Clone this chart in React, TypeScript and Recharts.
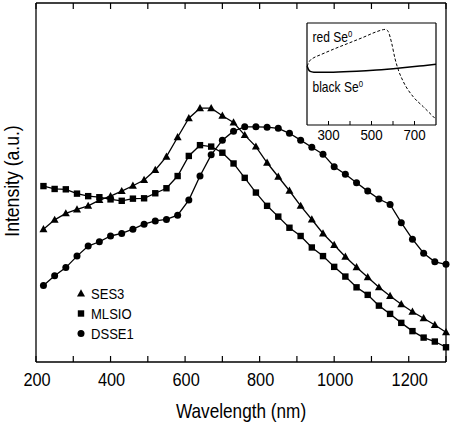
import React from 'react';
import { LineChart, Line, XAxis, YAxis, Legend } from 'recharts';

// Main chart: emission spectra
const WAVELENGTHS = [
  220, 250, 280, 310, 340, 370, 400, 430, 460, 490, 520, 550, 580, 610, 640, 670, 700, 730, 760,
  790, 820, 850, 880, 910, 940, 970, 1000, 1030, 1060, 1090, 1120, 1150, 1180, 1210, 1240, 1270, 1300
];
const SES3 = [
  37.0, 39.6, 41.4, 42.5, 43.5, 45.1, 46.2, 47.6, 49.1, 50.7, 53.5, 57.2, 62.6, 67.9, 70.7, 70.7, 68.6, 66.7, 63.2,
  60.0, 55.5, 51.6, 47.7, 43.5, 39.7, 35.8, 32.6, 29.3, 26.4, 23.6, 20.8, 18.4, 16.1, 14.0, 12.2, 10.3, 8.3
];
const MLSIO = [
  49.0, 48.2, 48.1, 46.9, 46.2, 45.9, 45.3, 44.9, 45.5, 45.6, 47.0, 48.4, 51.8, 57.4, 60.4, 60.0, 58.3, 55.3, 51.3,
  47.2, 43.5, 40.5, 37.4, 35.1, 31.9, 29.5, 26.5, 23.8, 20.8, 18.7, 15.7, 13.4, 10.9, 8.6, 6.8, 5.7, 4.1
];
const DSSE1 = [
  21.3, 24.0, 26.3, 29.5, 32.3, 33.5, 35.1, 35.8, 37.0, 38.4, 39.3, 39.7, 40.9, 45.1, 51.8, 57.7, 61.8, 64.3, 65.5,
  65.5, 65.4, 65.1, 63.7, 61.8, 59.8, 57.9, 54.4, 52.3, 49.9, 47.6, 45.4, 43.9, 38.8, 34.2, 30.3, 27.9, 27.2
];
const X_TICKS = [200, 300, 400, 500, 600, 700, 800, 900, 1000, 1100, 1200, 1300];
const X_LABELS = [200, 400, 600, 800, 1000, 1200];

// Inset: red vs black Se0
const RED_NM = [201, 206, 215, 232, 260, 322, 392, 462, 524, 555, 566, 578, 594, 609, 625, 648, 694, 741, 800];
const RED_V = [57.5, 60.5, 63.5, 66, 68.6, 74.2, 80.1, 86.0, 91.5, 93.5, 93.8, 91.5, 80.1, 65.4, 53.9, 42.5, 27.7, 17.9, 5.5];
const BLACK_NM = [201, 206, 215, 232, 260, 322, 431, 524, 633, 741, 800];
const BLACK_V = [57.5, 54.8, 52.6, 51.8, 51.6, 51.7, 52.6, 53.9, 55.9, 58.2, 59.5];
const INSET_TICKS = [300, 400, 500, 600, 700];
const INSET_LABELS = [300, 500, 700];

const FONT = "'Liberation Sans', Arial, Helvetica, sans-serif";

const SERIES = [
  { key: 'ses3', name: 'SES3', shape: 'triangle', values: SES3 },
  { key: 'mlsio', name: 'MLSIO', shape: 'square', values: MLSIO },
  { key: 'dsse1', name: 'DSSE1', shape: 'circle', values: DSSE1 }
];

const data = WAVELENGTHS.map((x, i) => ({ x, ses3: SES3[i], mlsio: MLSIO[i], dsse1: DSSE1[i] }));
const redData = RED_NM.map((x, i) => ({ x, v: RED_V[i] }));
const blackData = BLACK_NM.map((x, i) => ({ x, v: BLACK_V[i] }));

const PLOT_TOP = 3;
const PLOT_BOTTOM = 362;

// the original uses a condensed Helvetica, squeeze Arial horizontally to get close
const NarrowText = ({ x, y, size, anchor = 'start', squeeze = 0.86, rotate = 0, children }: any) => (
  <text
    transform={`translate(${x},${y}) rotate(${rotate}) scale(${squeeze},1)`}
    textAnchor={anchor}
    fontSize={size}
    fontFamily={FONT}
    fill="#000"
  >
    {children}
  </text>
);

const marker = (shape: string, cx: number, cy: number, key?: string) => {
  if (shape === 'triangle') {
    return <polygon key={key} points={`${cx},${cy - 4.2} ${cx + 4},${cy + 3} ${cx - 4},${cy + 3}`} fill="#000" />;
  }
  if (shape === 'square') {
    return <rect key={key} x={cx - 3.2} y={cy - 3.2} width={6.4} height={6.4} fill="#000" />;
  }
  return <circle key={key} cx={cx} cy={cy} r={3.5} fill="#000" />;
};

const BottomTick = (props: any) => {
  const { x, payload } = props;
  const v = payload.value;
  return (
    <g>
      <line x1={x} x2={x} y1={PLOT_BOTTOM} y2={PLOT_BOTTOM - 6} stroke="#000" strokeWidth={1.2} />
      {X_LABELS.includes(v) && (
        <NarrowText x={x + 1} y={386} size={19} anchor="middle">
          {v}
        </NarrowText>
      )}
    </g>
  );
};

const TopTick = (props: any) => (
  <line x1={props.x} x2={props.x} y1={PLOT_TOP} y2={PLOT_TOP + 6} stroke="#000" strokeWidth={1.2} />
);

const InsetBottomTick = (props: any) => {
  const { x, payload } = props;
  const v = payload.value;
  return (
    <g>
      <line x1={x} x2={x} y1={107} y2={103} stroke="#000" strokeWidth={1} />
      {INSET_LABELS.includes(v) && (
        <NarrowText x={x} y={122} size={14.5} anchor="middle" squeeze={0.92}>
          {v}
        </NarrowText>
      )}
    </g>
  );
};

const InsetTopTick = (props: any) => (
  <line x1={props.x} x2={props.x} y1={5} y2={9} stroke="#000" strokeWidth={1} />
);

const renderXLabel = () => (
  <NarrowText x={241} y={418} size={20} anchor="middle">
    Wavelength (nm)
  </NarrowText>
);

const renderYLabel = () => (
  <NarrowText x={19} y={181} size={20} anchor="middle" rotate={-90} squeeze={0.88}>
    Intensity (a.u.)
  </NarrowText>
);

const renderLegend = () => (
  <div style={{ fontFamily: FONT, fontSize: 15, color: '#000' }}>
    {SERIES.map(s => (
      <div key={s.key} style={{ display: 'flex', alignItems: 'center', height: 20 }}>
        <svg width={10} height={10} style={{ display: 'block' }}>
          {marker(s.shape, 5, 5.5)}
        </svg>
        <span style={{ marginLeft: 5, display: 'inline-block', transform: 'scaleX(0.87)', transformOrigin: 'left center' }}>
          {s.name}
        </span>
      </div>
    ))}
  </div>
);

const App = () => (
  <div style={{ position: 'absolute', left: 0, top: 0, width: 451, height: 426, background: '#fff' }}>
    <LineChart width={451} height={426} data={data} margin={{ top: 2, right: 4, left: 0, bottom: 0 }}>
      <XAxis
        dataKey="x"
        type="number"
        domain={[200, 1300]}
        ticks={X_TICKS}
        tick={BottomTick}
        tickLine={false}
        axisLine={{ stroke: '#000', strokeWidth: 1.3 }}
        height={64}
        interval={0}
        label={renderXLabel}
      />
      <XAxis
        xAxisId="top"
        orientation="top"
        dataKey="x"
        type="number"
        domain={[200, 1300]}
        ticks={X_TICKS}
        tick={TopTick}
        tickLine={false}
        axisLine={{ stroke: '#000', strokeWidth: 1.3 }}
        height={1}
        interval={0}
      />
      <YAxis
        domain={[0, 100]}
        width={36}
        tick={false}
        tickLine={false}
        axisLine={{ stroke: '#000', strokeWidth: 1.3 }}
        label={renderYLabel}
      />
      <YAxis
        yAxisId="right"
        orientation="right"
        domain={[0, 100]}
        width={1}
        tick={false}
        tickLine={false}
        axisLine={{ stroke: '#000', strokeWidth: 1.3 }}
      />
      {SERIES.map(s => (
        <Line
          key={s.key}
          dataKey={s.key}
          name={s.name}
          type="linear"
          stroke="#000"
          strokeWidth={1.3}
          dot={(p: any) => marker(s.shape, p.cx, p.cy, `${s.key}-${p.index}`)}
          activeDot={false}
          isAnimationActive={false}
        />
      ))}
      <Legend
        layout="vertical"
        verticalAlign="middle"
        align="center"
        content={renderLegend}
        wrapperStyle={{ left: 76, top: 283, width: 80, height: 60 }}
      />
    </LineChart>

    <div style={{ position: 'absolute', left: 300, top: 18, width: 145, height: 130 }}>
      <LineChart width={145} height={130} margin={{ top: 4, right: 8, left: 0, bottom: 0 }}>
        <XAxis
          dataKey="x"
          type="number"
          domain={[200, 800]}
          ticks={INSET_TICKS}
          tick={InsetBottomTick}
          tickLine={false}
          axisLine={{ stroke: '#000', strokeWidth: 1.2 }}
          height={23}
          interval={0}
        />
        <XAxis
          xAxisId="top"
          orientation="top"
          dataKey="x"
          type="number"
          domain={[200, 800]}
          ticks={INSET_TICKS}
          tick={InsetTopTick}
          tickLine={false}
          axisLine={{ stroke: '#000', strokeWidth: 1.2 }}
          height={1}
          interval={0}
        />
        <YAxis domain={[0, 100]} width={7} tick={false} tickLine={false} axisLine={{ stroke: '#000', strokeWidth: 1.2 }} />
        <YAxis
          yAxisId="right"
          orientation="right"
          domain={[0, 100]}
          width={1}
          tick={false}
          tickLine={false}
          axisLine={{ stroke: '#000', strokeWidth: 1.2 }}
        />
        <Line
          data={redData}
          dataKey="v"
          type="monotone"
          stroke="#000"
          strokeWidth={1}
          strokeDasharray="3 2"
          dot={false}
          activeDot={false}
          isAnimationActive={false}
        />
        <Line
          data={blackData}
          dataKey="v"
          type="monotone"
          stroke="#000"
          strokeWidth={1.5}
          dot={false}
          activeDot={false}
          isAnimationActive={false}
        />
        <NarrowText x={12.5} y={23.5} size={14}>
          red Se<tspan dy={-5} fontSize={9}>0</tspan>
        </NarrowText>
        <NarrowText x={12.5} y={73.5} size={14}>
          black Se<tspan dy={-5} fontSize={9}>0</tspan>
        </NarrowText>
      </LineChart>
    </div>
  </div>
);

export default App;
